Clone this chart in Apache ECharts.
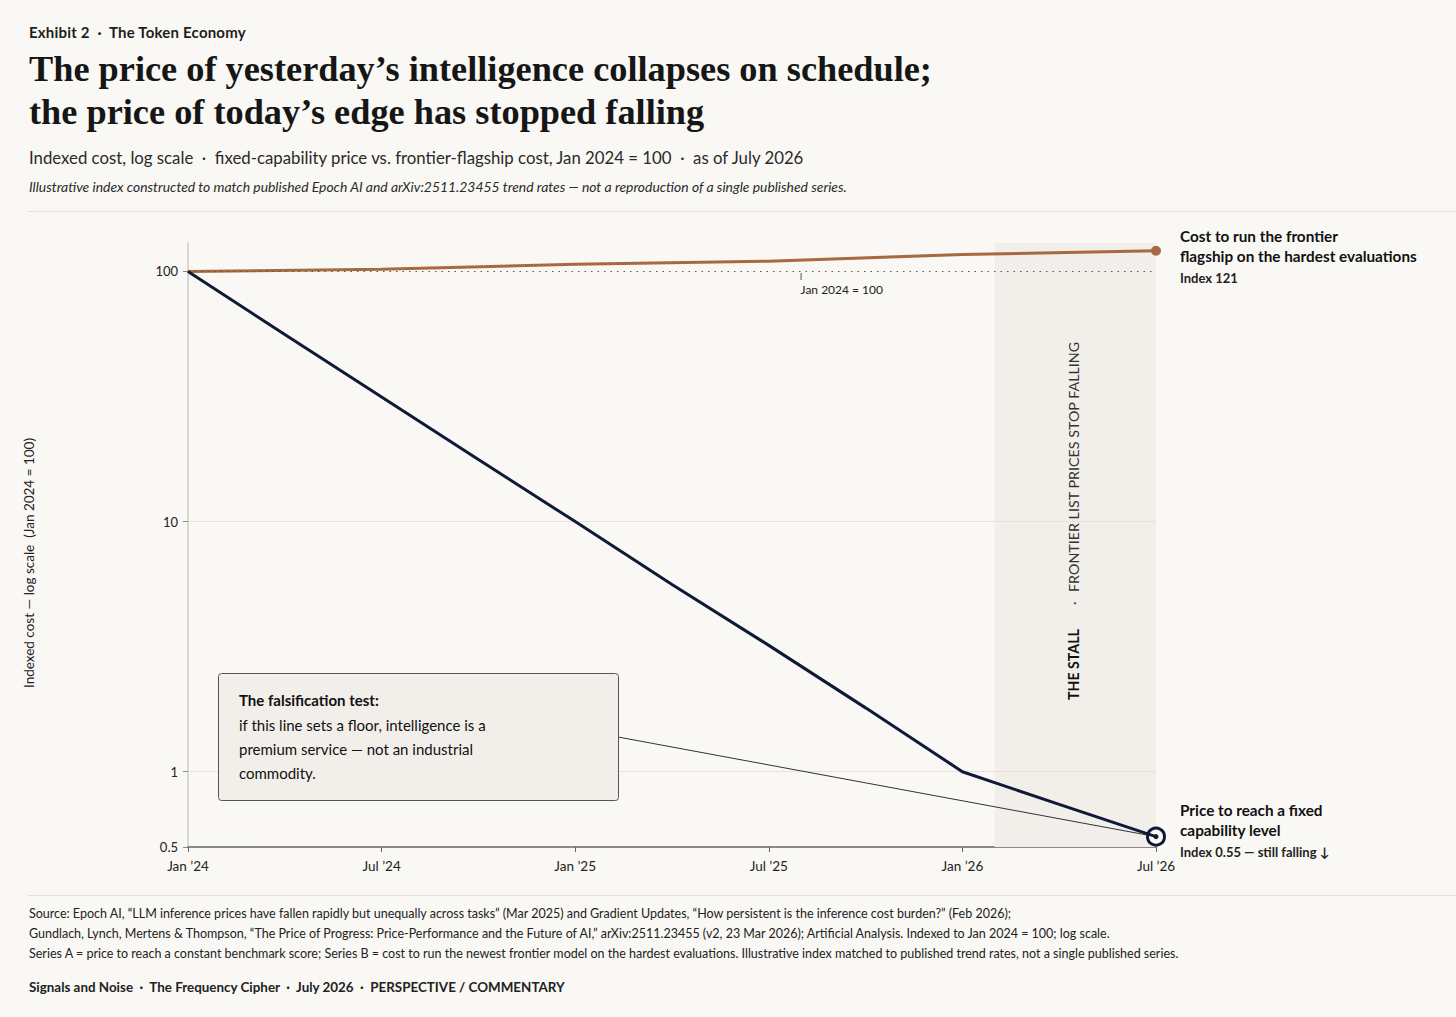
<!DOCTYPE html>
<html>
<head>
<meta charset="utf-8">
<script src="https://cdn.jsdelivr.net/npm/echarts@6/dist/echarts.min.js"></script>
<style>
  html, body { margin: 0; padding: 0; background: #f9f8f4; }
  body { width: 1456px; height: 1017px; position: relative; overflow: hidden; font-family: Lato, "Noto Sans", sans-serif; color: #1e1e1e; }
  #chart { position: absolute; left: 0; top: 0; width: 1456px; height: 1017px; }
  .t { position: absolute; left: 29px; white-space: nowrap; }
  .kicker { top: 22px; font-size: 15px; font-weight: 700; line-height: 20px; letter-spacing: 0.2px; }
  .title { top: 48px; font-family: "Liberation Serif", "DejaVu Serif", serif; font-weight: 700; font-size: 36.3px; line-height: 43px; color: #161616; }
  .sub { top: 147px; font-size: 16.8px; line-height: 22px; color: #2a2a2a; }
  .note { top: 178px; font-size: 13.9px; font-style: italic; line-height: 18px; color: #2a2a2a; }
  .rule { position: absolute; left: 28px; right: 0; height: 1px; background: #e3e0da; }
  .src { top: 904px; font-size: 12.5px; line-height: 20px; color: #222; }
  .foot { top: 978px; font-size: 13.4px; font-weight: 700; line-height: 18px; color: #222; }
</style>
</head>
<body>
<div class="t kicker">Exhibit 2 &nbsp;·&nbsp; The Token Economy</div>
<div class="t title">The price of yesterday’s intelligence collapses on schedule;<br>the price of today’s edge has stopped falling</div>
<div class="t sub">Indexed cost, log scale &nbsp;·&nbsp; fixed-capability price vs. frontier-flagship cost, Jan 2024 = 100 &nbsp;·&nbsp; as of July 2026</div>
<div class="t note">Illustrative index constructed to match published Epoch AI and arXiv:2511.23455 trend rates — not a reproduction of a single published series.</div>
<div class="rule" style="top:211px"></div>
<div id="chart"></div>
<div class="rule" style="top:895px"></div>
<div class="t src">Source: Epoch AI, “LLM inference prices have fallen rapidly but unequally across tasks” (Mar 2025) and Gradient Updates, “How persistent is the inference cost burden?” (Feb 2026);<br>Gundlach, Lynch, Mertens &amp; Thompson, “The Price of Progress: Price-Performance and the Future of AI,” arXiv:2511.23455 (v2, 23 Mar 2026); Artificial Analysis. Indexed to Jan 2024 = 100; log scale.<br>Series A = price to reach a constant benchmark score; Series B = cost to run the newest frontier model on the hardest evaluations. Illustrative index matched to published trend rates, not a single published series.</div>
<div class="t foot">Signals and Noise &nbsp;·&nbsp; The Frequency Cipher &nbsp;·&nbsp; July 2026 &nbsp;·&nbsp; PERSPECTIVE / COMMENTARY</div>

<script>
// months counted from Jan 2024
var monthsA = [0, 3, 6, 9, 12, 15, 18, 21, 24, 27, 30];
var fixedCapability = [100, 56, 31.5, 17.7, 10, 5.6, 3.2, 1.8, 1.0, 0.74, 0.55];
var monthsB = [0, 6, 12, 18, 24, 30];
var frontierFlagship = [100, 102, 107, 110, 117, 121];
var tickLabels = ['Jan ’24', 'Jul ’24', 'Jan ’25', 'Jul ’25', 'Jan ’26', 'Jul ’26'];
var yTicks = [0.5, 1, 10, 100];
var stallStart = 25; // Feb 2026
var baseMarker = 19; // where "Jan 2024 = 100" sits

var navy = '#0e1a38';
var brown = '#a66a40';
var ink = '#222';
var sans = 'Lato, "Noto Sans", sans-serif';

function pairs(xs, ys) {
  var out = [];
  for (var i = 0; i < xs.length; i++) out.push([xs[i], ys[i]]);
  return out;
}
var dataA = pairs(monthsA, fixedCapability);
var dataB = pairs(monthsB, frontierFlagship);
var lastA = dataA[dataA.length - 1];
var lastB = dataB[dataB.length - 1];

function txt(x, y, text, font, fill, extra) {
  var el = {type: 'text', x: x, y: y, z: 11, style: {text: text, font: font + ' ' + sans, fill: fill || '#111', textVerticalAlign: 'middle'}};
  if (extra) for (var k in extra) el[k] = extra[k];
  return el;
}

var chart = echarts.init(document.getElementById('chart'), null, {renderer: 'svg'});
var option = {
  animation: false,
  textStyle: {fontFamily: sans},
  grid: {left: 188, right: 300, top: 243, bottom: 170},
  xAxis: {
    type: 'value',
    min: 0,
    max: 30,
    interval: 6,
    axisLine: {lineStyle: {color: '#666', width: 1.5}},
    axisTick: {show: true, length: 5, lineStyle: {color: '#666'}},
    axisLabel: {
      margin: 12,
      color: ink,
      fontSize: 13.5,
      formatter: function (v) { return tickLabels[Math.round(v / 6)] || ''; }
    },
    splitLine: {show: false}
  },
  yAxis: {
    type: 'log',
    logBase: 10,
    min: 0.5,
    max: 130,
    axisLine: {show: true, lineStyle: {color: '#cfcdc8', width: 1.5}},
    axisTick: {show: true, length: 5, lineStyle: {color: '#888'}, customValues: yTicks},
    axisLabel: {
      margin: 10,
      color: ink,
      fontSize: 13,
      customValues: yTicks,
      formatter: function (v) {
        for (var i = 0; i < yTicks.length; i++) {
          if (Math.abs(v - yTicks[i]) / yTicks[i] < 0.01) return String(yTicks[i]);
        }
        return '';
      }
    },
    splitLine: {show: false}
  },
  series: [
    {
      name: 'Frontier flagship',
      type: 'line',
      data: dataB,
      showSymbol: false,
      lineStyle: {color: brown, width: 3},
      z: 4,
      markArea: {
        silent: true,
        itemStyle: {color: '#f2efea'},
        data: [[{xAxis: stallStart}, {xAxis: 30}]]
      },
      markLine: {
        silent: true,
        symbol: 'none',
        label: {show: false},
        data: [
          {yAxis: 10, lineStyle: {color: '#e6e3de', width: 1, type: 'solid'}},
          {yAxis: 1, lineStyle: {color: '#e6e3de', width: 1, type: 'solid'}},
          {yAxis: 100, lineStyle: {color: '#555', width: 1.2, type: [1.5, 5]}}
        ]
      },
      markPoint: {
        silent: true,
        data: [
          {coord: lastB, symbol: 'circle', symbolSize: 10, itemStyle: {color: brown}, label: {show: false}},
          {
            coord: [baseMarker, 100], symbol: 'rect', symbolSize: [1, 7], symbolOffset: [0, 5],
            itemStyle: {color: '#555'},
            label: {show: true, position: [0, 11], align: 'left', formatter: 'Jan 2024 = 100', color: ink, fontSize: 12}
          }
        ]
      }
    },
    {
      name: 'Fixed capability',
      type: 'line',
      data: dataA,
      showSymbol: false,
      lineStyle: {color: navy, width: 3},
      z: 5,
      markLine: {
        silent: true,
        symbol: 'none',
        label: {show: false},
        lineStyle: {color: '#333', width: 1, type: 'solid'},
        data: [[{x: 618, y: 737}, {coord: lastA}]]
      },
      markPoint: {
        silent: true,
        label: {show: false},
        data: [
          {coord: lastA, symbol: 'circle', symbolSize: 17, itemStyle: {color: '#f9f8f4', borderColor: navy, borderWidth: 3}},
          {coord: lastA, symbol: 'circle', symbolSize: 5, itemStyle: {color: navy}}
        ]
      }
    }
  ],
  graphic: [
    txt(29, 563, 'Indexed cost — log scale  (Jan 2024 = 100)', '13.5px', ink, {rotation: Math.PI / 2, style: {text: 'Indexed cost — log scale  (Jan 2024 = 100)', font: '13.5px ' + sans, fill: ink, textAlign: 'center', textVerticalAlign: 'middle'}}),
    // the stall band caption, reading upwards
    txt(1073, 700, 'THE STALL', 'bold 14.2px', '#111', {rotation: Math.PI / 2}),
    txt(1073, 605, '·', '14px', '#333', {rotation: Math.PI / 2}),
    txt(1073, 592, 'FRONTIER LIST PRICES STOP FALLING', '14.3px', '#333', {rotation: Math.PI / 2}),

    {
      type: 'rect', shape: {x: 218.5, y: 673.5, width: 400, height: 127, r: 3},
      style: {fill: '#f2efea', stroke: '#555', lineWidth: 1}, z: 10
    },
    txt(239, 700, 'The falsification test:', 'bold 15px'),
    txt(239, 725, 'if this line sets a floor, intelligence is a', '15px'),
    txt(239, 749, 'premium service — not an industrial', '15px'),
    txt(239, 773, 'commodity.', '15px'),

    txt(1180, 236, 'Cost to run the frontier', 'bold 15.3px'),
    txt(1180, 256, 'flagship on the hardest evaluations', 'bold 15.3px'),
    txt(1180, 278, 'Index 121', 'bold 13px', '#222'),

    txt(1180, 810, 'Price to reach a fixed', 'bold 15.3px'),
    txt(1180, 830, 'capability level', 'bold 15.3px'),
    txt(1180, 852, 'Index 0.55 — still falling ↓', 'bold 13px', '#222')
  ]
};
chart.setOption(option);
</script>
</body>
</html>
